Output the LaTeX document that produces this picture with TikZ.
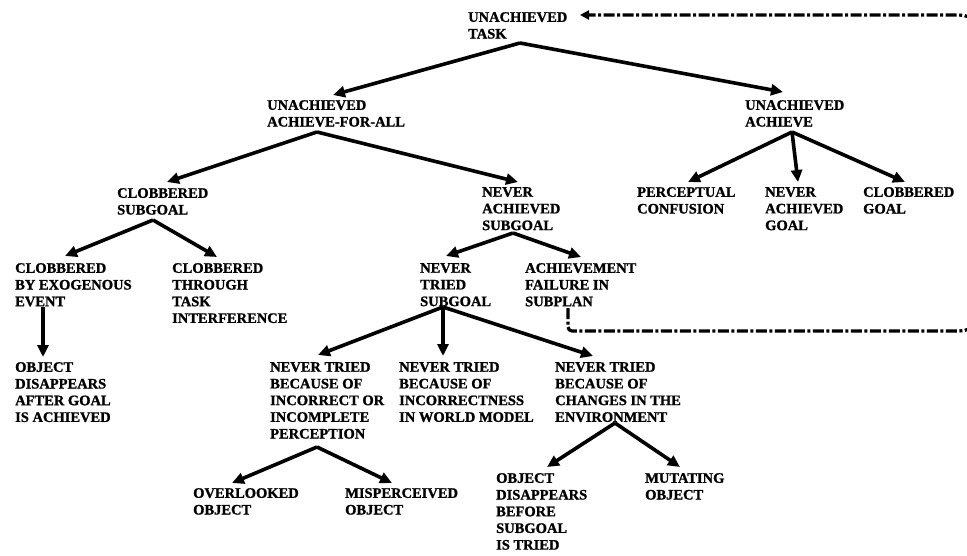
\documentclass[tikz,border=0pt]{standalone}
\usepackage{fontspec}
\newfontfamily\failfont{Liberation Serif}[BoldFeatures={FakeBold=1.2}]
\usetikzlibrary{arrows.meta}
\usetikzlibrary{calc}

\begin{document}
\begin{tikzpicture}[x=1pt,y=-1pt]
\tikzset{failnode/.style={anchor=north west,inner sep=0pt,align=left,font=\failfont\fontsize{14.5}{16.7}\selectfont\bfseries}}
\tikzset{failarrow/.style={line width=3.6pt,-{Triangle[length=12pt,width=11pt]}}}
\tikzset{backloop/.style={line width=3.2pt,dash pattern=on 11pt off 2.5pt on 3pt off 2.5pt,-{Triangle[length=9pt,width=9pt]}}}
\clip (0,0) rectangle (967,555);
\node[failnode](task) at (468,12){UNACHIEVED\\TASK};
\node[failnode](afa) at (267,100){UNACHIEVED\\ACHIEVE-FOR-ALL};
\node[failnode](ua) at (745,100){UNACHIEVED\\ACHIEVE};
\node[failnode](csg) at (117,188){CLOBBERED\\SUBGOAL};
\node[failnode](nas) at (482,187){NEVER\\ACHIEVED\\SUBGOAL};
\node[failnode](pc) at (637,187){PERCEPTUAL\\CONFUSION};
\node[failnode](nag) at (765,187){NEVER\\ACHIEVED\\GOAL};
\node[failnode](cg) at (863,187){CLOBBERED\\GOAL};
\node[failnode](cbe) at (15,263){CLOBBERED\\BY EXOGENOUS\\EVENT};
\node[failnode](cti) at (172,263){CLOBBERED\\THROUGH\\TASK\\INTERFERENCE};
\node[failnode](nts) at (420,263){NEVER\\TRIED\\SUBGOAL};
\node[failnode](afs) at (525,263){ACHIEVEMENT\\FAILURE IN\\SUBPLAN};
\node[failnode](oda) at (15,362){OBJECT\\DISAPPEARS\\AFTER GOAL\\IS ACHIEVED};
\node[failnode](ntp) at (270,362){NEVER TRIED\\BECAUSE OF\\INCORRECT OR\\INCOMPLETE\\PERCEPTION};
\node[failnode](ntw) at (399,362){NEVER TRIED\\BECAUSE OF\\INCORRECTNESS\\IN WORLD MODEL};
\node[failnode](nte) at (555,362){NEVER TRIED\\BECAUSE OF\\CHANGES IN THE\\ENVIRONMENT};
\node[failnode](ovo) at (193,488){OVERLOOKED\\OBJECT};
\node[failnode](mpo) at (345,488){MISPERCEIVED\\OBJECT};
\node[failnode](odb) at (496,473){OBJECT\\DISAPPEARS\\BEFORE\\SUBGOAL\\IS TRIED};
\node[failnode](mut) at (645,473){MUTATING\\OBJECT};
\draw[failarrow]($(task.north west)+(52,31)$) -- ($(afa.north west)+(66,-5)$);
\draw[failarrow]($(task.north west)+(52,31)$) -- ($(ua.north west)+(38,-8)$);
\draw[failarrow]($(afa.north west)+(50,32)$) -- ($(csg.north west)+(50,-6)$);
\draw[failarrow]($(afa.north west)+(50,32)$) -- ($(nas.north west)+(36,-5)$);
\draw[failarrow]($(ua.north west)+(47,32)$) -- ($(pc.north west)+(51,-5)$);
\draw[failarrow]($(ua.north west)+(47,32)$) -- ($(nag.north west)+(33,-5)$);
\draw[failarrow]($(ua.north west)+(47,32)$) -- ($(cg.north west)+(42,-5)$);
\draw[failarrow]($(csg.north west)+(36,32)$) -- ($(cbe.north west)+(50,-7)$);
\draw[failarrow]($(csg.north west)+(36,32)$) -- ($(cti.north west)+(45,-6)$);
\draw[failarrow]($(nas.north west)+(31,46)$) -- ($(nts.north west)+(26,-7)$);
\draw[failarrow]($(nas.north west)+(31,46)$) -- ($(afs.north west)+(56,-6)$);
\draw[failarrow]($(cbe.north west)+(28,44)$) -- ($(oda.north west)+(28,-5)$);
\draw[failarrow]($(nts.north west)+(23,44)$) -- ($(ntp.north west)+(48,-7)$);
\draw[failarrow]($(nts.north west)+(23,44)$) -- ($(ntw.north west)+(44,-6)$);
\draw[failarrow]($(nts.north west)+(23,44)$) -- ($(nte.north west)+(38,-6)$);
\draw[failarrow]($(ntp.north west)+(47,85)$) -- ($(ovo.north west)+(39,-5)$);
\draw[failarrow]($(ntp.north west)+(47,85)$) -- ($(mpo.north west)+(47,-5)$);
\draw[failarrow]($(nte.north west)+(60,61)$) -- ($(odb.north west)+(51,-6)$);
\draw[failarrow]($(nte.north west)+(60,61)$) -- ($(mut.north west)+(35,-6)$);
\draw[backloop,rounded corners=4pt]($(afs.north west)+(43,45)$) -- ++(0,23) [rounded corners=26pt] -- (985,331) -- (985,15) -- ($(task.north west)+(112,3)$);
\end{tikzpicture}
\end{document}
